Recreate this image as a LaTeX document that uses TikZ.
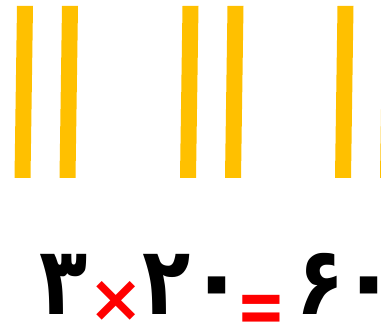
\documentclass[tikz,border=0pt]{standalone}
\usepackage{fontspec}
\newfontfamily\digitfont[Script=Arabic]{DejaVu Sans}
\newfontfamily\symfont{DejaVu Sans}
\definecolor{bargold}{HTML}{FFC000}
\definecolor{opred}{HTML}{FF0000}
\newcommand{\tall}[1]{\scalebox{1}[1.2]{#1}}
\begin{document}
\begin{tikzpicture}[x=1pt,y=-1pt,
  bar/.style={fill=bargold,draw=none},
  digit/.style={inner sep=0pt,anchor=base,text depth=0pt,font=\digitfont\bfseries\fontsize{79}{79}\selectfont,text=black},
  zero/.style={inner sep=0pt,anchor=base,text depth=0pt,font=\digitfont\bfseries\fontsize{100}{100}\selectfont,text=black},
  op/.style={inner sep=0pt,anchor=base,text depth=0pt,font=\symfont\bfseries\fontsize{66}{66}\selectfont,text=opred}]
\useasboundingbox (0,0) rectangle (381,328);
% bars
\foreach \xt in {17,62,182.5,227.5,337.5,382.5}{
  \fill[bargold] (\xt,6) -- (\xt+16,6) -- (\xt+13.5,178) -- (\xt-2.5,178) -- cycle;
}
% equation
\node[digit] (d3) at (63.5,315) {\tall{۳}};
\node[op] (times) at (116.5,322) {×};
\node[digit] (d2) at (166.5,315) {\tall{۲}};
\node[zero] (d0a) at (217.5,314) {۰};
\node[op] (eq) at (261.5,322) {\raisebox{-12pt}{\scalebox{0.9}[1.2]{=}}};
\node[digit] (d6) at (321,315) {\tall{۶}};
\node[zero] (d0b) at (369,314) {۰};
\end{tikzpicture}
\end{document}
